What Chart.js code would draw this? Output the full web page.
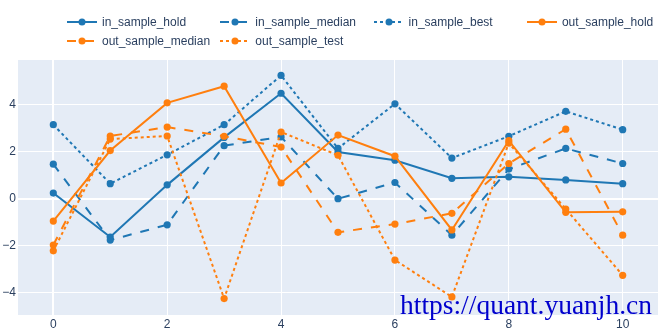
<!DOCTYPE html>
<html><head><meta charset="utf-8">
<script src="https://cdn.jsdelivr.net/npm/chart.js@4.4.1/dist/chart.umd.min.js"></script>
<style>
html,body{margin:0;padding:0;background:#fff;}
#wrap{position:relative;width:664px;height:332px;overflow:hidden;}
#c{position:absolute;left:0;top:0;}
.leg{position:absolute;font:12px "Liberation Sans",Arial,sans-serif;color:#2a3f5f;white-space:nowrap;height:16px;line-height:16px;}
.leg svg{position:absolute;left:5px;top:3px;}
.leg span{position:absolute;left:40px;top:0;}
#wm{position:absolute;left:400px;top:291px;font:27.5px "Liberation Serif","Times New Roman",serif;color:#0000cd;line-height:27px;white-space:nowrap;}
</style></head><body>
<div id="wrap"><canvas id="c" width="664" height="332"></canvas><div id="legend"></div><div id="wm">https://quant.yuanjh.cn</div></div>
<script>
// ---- data ----
const xValues = [0, 1, 2, 3, 4, 5, 6, 7, 8, 9, 10];
const xTicks = [0, 2, 4, 6, 8, 10];
const yTicks = [-4, -2, 0, 2, 4];
const seriesNames = ['in_sample_hold', 'in_sample_median', 'in_sample_best', 'out_sample_hold', 'out_sample_median', 'out_sample_test'];
const inSampleHold   = [0.25, -1.62, 0.60, 2.62, 4.50, 2.00, 1.65, 0.88, 0.94, 0.81, 0.65];
const inSampleMedian = [1.48, -1.75, -1.10, 2.27, 2.64, 0.01, 0.70, -1.54, 1.27, 2.15, 1.51];
const inSampleBest   = [3.16, 0.65, 1.88, 3.16, 5.26, 2.15, 4.05, 1.74, 2.67, 3.73, 2.95];
const outSampleHold  = [-0.94, 2.06, 4.09, 4.80, 0.68, 2.72, 1.82, -1.32, 2.48, -0.57, -0.55];
const outSampleMedian= [-1.96, 2.68, 3.06, 2.67, 2.21, -1.42, -1.07, -0.61, 1.51, 2.97, -1.54];
const outSampleTest  = [-2.21, 2.55, 2.68, -4.24, 2.85, 1.86, -2.60, -4.17, 2.38, -0.43, -3.25];

// ---- styles ----
const BLUE = '#1f77b4', ORANGE = '#ff7f0e';
const seriesValues = [inSampleHold, inSampleMedian, inSampleBest, outSampleHold, outSampleMedian, outSampleTest];
const seriesColors = [BLUE, BLUE, BLUE, ORANGE, ORANGE, ORANGE];
const seriesDash = [[], [9, 9], [3, 3], [], [9, 9], [3, 3]];

const datasets = seriesNames.map((name, i) => ({
  label: name,
  data: xValues.map((x, j) => ({x: x, y: seriesValues[i][j]})),
  borderColor: seriesColors[i],
  backgroundColor: seriesColors[i],
  borderWidth: 2,
  borderDash: seriesDash[i],
  pointRadius: 3.6,
  pointBorderWidth: 0,
  pointBackgroundColor: seriesColors[i],
  tension: 0,
  fill: false,
  order: seriesNames.length - 1 - i
}));

const bgPlugin = {
  id: 'plotBg',
  beforeDraw(chart) {
    const {ctx, chartArea: a} = chart;
    ctx.save();
    ctx.fillStyle = '#E5ECF6';
    ctx.fillRect(a.left, a.top, a.right - a.left, a.bottom - a.top);
    ctx.restore();
  }
};

const fmt = v => String(v).replace('-', '\u2212');

const chart = new Chart(document.getElementById('c'), {
  type: 'line',
  data: {datasets},
  plugins: [bgPlugin],
  options: {
    responsive: false,
    devicePixelRatio: 1,
    animation: false,
    layout: {padding: {top: 60, right: 6, left: 0, bottom: 0}},
    plugins: {legend: {display: false}, tooltip: {enabled: false}},
    scales: {
      x: {
        type: 'linear', min: -0.62, max: 10.62,
        afterBuildTicks: s => { s.ticks = xTicks.map(v => ({value: v})); },
        afterFit: s => { s.height = 17; },
        grid: {color: '#ffffff', lineWidth: c => (c.tick && c.tick.value === 0 ? 2 : 1), drawTicks: false},
        border: {display: false},
        ticks: {padding: 2, maxRotation: 0, autoSkip: false, color: '#2a3f5f',
          font: {family: '"Liberation Sans", Arial, sans-serif', size: 12}, callback: fmt}
      },
      y: {
        type: 'linear', min: -4.94, max: 5.915,
        afterBuildTicks: s => { s.ticks = yTicks.map(v => ({value: v})); },
        afterFit: s => { s.width = 18; },
        grid: {color: '#ffffff', lineWidth: c => (c.tick && c.tick.value === 0 ? 2 : 1), drawTicks: false},
        border: {display: false},
        ticks: {padding: 2, autoSkip: false, color: '#2a3f5f',
          font: {family: '"Liberation Sans", Arial, sans-serif', size: 12}, callback: fmt}
      }
    }
  }
});

// ---- HTML legend built from the chart's datasets ----
const legendEl = document.getElementById('legend');
chart.data.datasets.forEach((ds, i) => {
  const col = i % 4, row = Math.floor(i / 4);
  const item = document.createElement('div');
  item.className = 'leg';
  item.style.left = (62 + col * 153.3) + 'px';
  item.style.top = (row === 0 ? 14 : 33) + 'px';
  const dash = ds.borderDash.length ? ' stroke-dasharray="' + ds.borderDash.join(',') + '"' : '';
  item.innerHTML = '<svg width="30" height="10"><line x1="0" y1="5" x2="30" y2="5" stroke="' + ds.borderColor +
    '" stroke-width="2"' + dash + '/><circle cx="15" cy="5" r="3.5" fill="' + ds.borderColor + '"/></svg><span></span>';
  item.querySelector('span').textContent = ds.label;
  legendEl.appendChild(item);
});
</script>
</body></html>
